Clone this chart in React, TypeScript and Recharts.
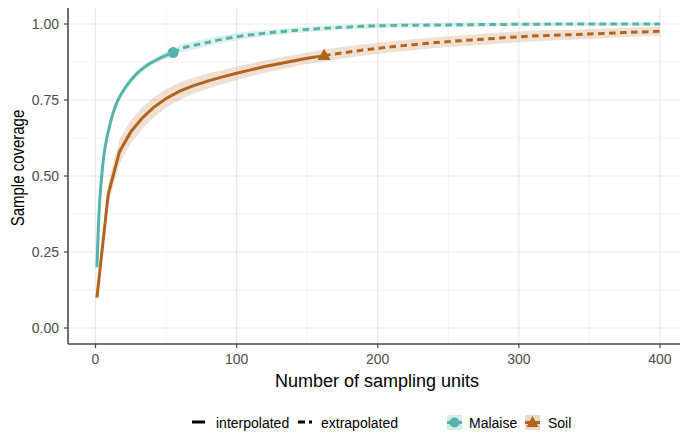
import { ComposedChart, Line, Area, Scatter, XAxis, YAxis, CartesianGrid, Label } from 'recharts';

const MALAISE = '#55b4aa';
const SOIL = '#b2631e';

const X_TICKS = [0, 100, 200, 300, 400];
const X_MINOR = [50, 150, 250, 350];
const Y_TICKS = [0, 0.25, 0.5, 0.75, 1];
const Y_MINOR = [0.125, 0.375, 0.625, 0.875];

// Malaise, interpolated part (observed reference sample = 55 units)
const malaiseIntX = [1, 2, 3, 4, 5, 6, 8, 10, 13, 16, 20, 25, 30, 35, 40, 45, 50, 55];
const malaiseIntY = [0.2, 0.33, 0.42, 0.48, 0.53, 0.57, 0.625, 0.665, 0.715, 0.75, 0.783, 0.815, 0.84, 0.859, 0.874, 0.886, 0.897, 0.906];
const malaiseIntCI = [0.01, 0.012, 0.012, 0.012, 0.012, 0.012, 0.012, 0.012, 0.011, 0.011, 0.01, 0.01, 0.01, 0.01, 0.01, 0.011, 0.011, 0.012];

// Malaise, extrapolated part
const malaiseExtX = [55, 60, 70, 80, 90, 100, 125, 150, 175, 200, 250, 300, 350, 400];
const malaiseExtY = [0.906, 0.918, 0.93, 0.94, 0.95, 0.958, 0.972, 0.982, 0.989, 0.994, 0.997, 0.999, 1.0, 1.0];
const malaiseExtCI = [0.012, 0.013, 0.013, 0.013, 0.012, 0.012, 0.01, 0.009, 0.008, 0.008, 0.007, 0.006, 0.006, 0.006];

// Soil, interpolated part (observed reference sample = 162 units)
const soilIntX = [1, 9, 17, 25, 33, 41, 50, 60, 70, 80, 90, 100, 110, 120, 130, 140, 150, 162];
const soilIntY = [0.1, 0.44, 0.58, 0.645, 0.69, 0.725, 0.755, 0.78, 0.798, 0.813, 0.826, 0.838, 0.849, 0.86, 0.869, 0.878, 0.887, 0.896];
const soilIntCI = [0.01, 0.035, 0.04, 0.038, 0.035, 0.033, 0.03, 0.028, 0.026, 0.025, 0.023, 0.022, 0.021, 0.02, 0.02, 0.019, 0.019, 0.019];

// Soil, extrapolated part
const soilExtX = [162, 175, 200, 225, 250, 275, 300, 325, 350, 375, 400];
const soilExtY = [0.896, 0.905, 0.92, 0.932, 0.942, 0.95, 0.958, 0.963, 0.967, 0.972, 0.976];
const soilExtCI = [0.019, 0.019, 0.018, 0.018, 0.018, 0.018, 0.018, 0.017, 0.016, 0.016, 0.015];

const malaiseObs = [{ x: 55, y: 0.906 }];
const soilObs = [{ x: 162, y: 0.896 }];

const toRows = (xs: number[], ys: number[], ci: number[]) =>
  xs.map((x, i) => ({ x, y: ys[i], band: [ys[i] - ci[i], ys[i] + ci[i]] }));

const malaiseInt = toRows(malaiseIntX, malaiseIntY, malaiseIntCI);
const malaiseExt = toRows(malaiseExtX, malaiseExtY, malaiseExtCI);
const soilInt = toRows(soilIntX, soilIntY, soilIntCI);
const soilExt = toRows(soilExtX, soilExtY, soilExtCI);
const malaiseBand = [...malaiseInt, ...malaiseExt.slice(1)];

const X_DOMAIN = [-19.5, 414.2];
const Y_DOMAIN = [-0.0526, 1.0526];

const XTitle = (props: any) => {
  const vb = props.viewBox;
  return (
    <text x={vb.x + vb.width / 2 + 3} y={387} textAnchor="middle" fontSize={18} fill="#000">
      Number of sampling units
    </text>
  );
};

// the reference is slightly stretched sideways, so the rotated title gets a wider glyph height
const YTitle = (props: any) => {
  const vb = props.viewBox;
  const cy = vb.y + vb.height / 2 - 8;
  return (
    <text x={0} y={0} transform={`translate(24 ${cy}) rotate(-90) scale(1 1.2)`} textAnchor="middle" fontSize={15} fill="#000">
      Sample coverage
    </text>
  );
};

const Dot = (p: any) => <circle cx={p.cx} cy={p.cy} r={5.5} fill={MALAISE} />;
const Tri = (p: any) => (
  <polygon points={`${p.cx},${p.cy - 7} ${p.cx - 6.5},${p.cy + 4.5} ${p.cx + 6.5},${p.cy + 4.5}`} fill={SOIL} />
);

function LegendRow() {
  const txt: React.CSSProperties = { position: 'absolute', top: 414, fontSize: 14, lineHeight: '18px', color: '#000' };
  return (
    <>
      <svg style={{ position: 'absolute', left: 0, top: 405, overflow: 'visible' }} width={680} height={30}>
        <line x1={192} x2={205} y1={17} y2={17} stroke="#000" strokeWidth={3} />
        <line x1={298} x2={305} y1={17} y2={17} stroke="#000" strokeWidth={3} />
        <line x1={309} x2={312} y1={17} y2={17} stroke="#000" strokeWidth={3} />
        <rect x={447} y={10} width={15} height={15} fill={MALAISE} fillOpacity={0.25} />
        <line x1={447} x2={462} y1={17.5} y2={17.5} stroke={MALAISE} strokeWidth={3} />
        <circle cx={454.5} cy={17.5} r={5} fill={MALAISE} />
        <rect x={525} y={10} width={15} height={15} fill={SOIL} fillOpacity={0.25} />
        <line x1={525} x2={540} y1={17.5} y2={17.5} stroke={SOIL} strokeWidth={3} />
        <polygon points="532.5,11 526.5,22 538.5,22" fill={SOIL} />
      </svg>
      <span style={{ ...txt, left: 216 }}>interpolated</span>
      <span style={{ ...txt, left: 321 }}>extrapolated</span>
      <span style={{ ...txt, left: 469 }}>Malaise</span>
      <span style={{ ...txt, left: 548 }}>Soil</span>
    </>
  );
}

export default function App() {
  return (
    <div
      style={{
        position: 'absolute',
        left: 0,
        top: 0,
        width: 680,
        height: 433,
        background: '#fff',
        overflow: 'hidden',
        fontFamily: '"Liberation Sans", Arial, sans-serif',
      }}
    >
      <ComposedChart width={680} height={433} margin={{ top: 8, right: 0, bottom: 49, left: 0 }}>
        <CartesianGrid verticalValues={X_MINOR} horizontalValues={Y_MINOR} stroke="#f0f0f0" strokeWidth={0.7} />
        <CartesianGrid verticalValues={X_TICKS} horizontalValues={Y_TICKS} stroke="#e8e8e8" strokeWidth={1.2} />
        <XAxis
          type="number"
          dataKey="x"
          domain={X_DOMAIN}
          ticks={X_TICKS}
          allowDataOverflow
          height={40}
          tickSize={4}
          tickMargin={6}
          tick={{ fill: '#4d4d4d', fontSize: 14 }}
          axisLine={{ stroke: '#4a4a4a', strokeWidth: 1.6 }}
          tickLine={{ stroke: '#4a4a4a', strokeWidth: 1.2 }}
        >
          <Label content={XTitle} />
        </XAxis>
        <XAxis
          xAxisId="top"
          orientation="top"
          type="number"
          dataKey="x"
          domain={X_DOMAIN}
          allowDataOverflow
          height={0}
          tick={false}
          tickLine={false}
          axisLine={{ stroke: '#a8a8a8', strokeWidth: 1.5 }}
        />
        <YAxis
          type="number"
          dataKey="y"
          domain={Y_DOMAIN}
          ticks={Y_TICKS}
          allowDataOverflow
          width={68}
          tickSize={4}
          tickMargin={5}
          tickFormatter={(v: number) => v.toFixed(2)}
          tick={{ fill: '#4d4d4d', fontSize: 14 }}
          axisLine={{ stroke: '#4a4a4a', strokeWidth: 1.6 }}
          tickLine={{ stroke: '#4a4a4a', strokeWidth: 1.2 }}
        >
          <Label content={YTitle} />
        </YAxis>

        <Area data={soilInt} dataKey="band" type="linear" stroke="none" fill={SOIL} fillOpacity={0.2} isAnimationActive={false} />
        <Area data={soilExt} dataKey="band" type="monotone" stroke="none" fill={SOIL} fillOpacity={0.2} isAnimationActive={false} />
        <Area data={malaiseBand} dataKey="band" type="monotone" stroke="none" fill={MALAISE} fillOpacity={0.2} isAnimationActive={false} />

        <Line data={soilInt} dataKey="y" type="linear" stroke={SOIL} strokeWidth={3} dot={false} activeDot={false} isAnimationActive={false} />
        <Line data={soilExt} dataKey="y" type="monotone" stroke={SOIL} strokeWidth={3} strokeDasharray="6.5 4.5" dot={false} activeDot={false} isAnimationActive={false} />
        <Line data={malaiseInt} dataKey="y" type="monotone" stroke={MALAISE} strokeWidth={3} dot={false} activeDot={false} isAnimationActive={false} />
        <Line data={malaiseExt} dataKey="y" type="monotone" stroke={MALAISE} strokeWidth={3} strokeDasharray="6.5 4.5" dot={false} activeDot={false} isAnimationActive={false} />

        <Scatter data={malaiseObs} dataKey="y" shape={Dot} isAnimationActive={false} />
        <Scatter data={soilObs} dataKey="y" shape={Tri} isAnimationActive={false} />
      </ComposedChart>
      <LegendRow />
    </div>
  );
}
